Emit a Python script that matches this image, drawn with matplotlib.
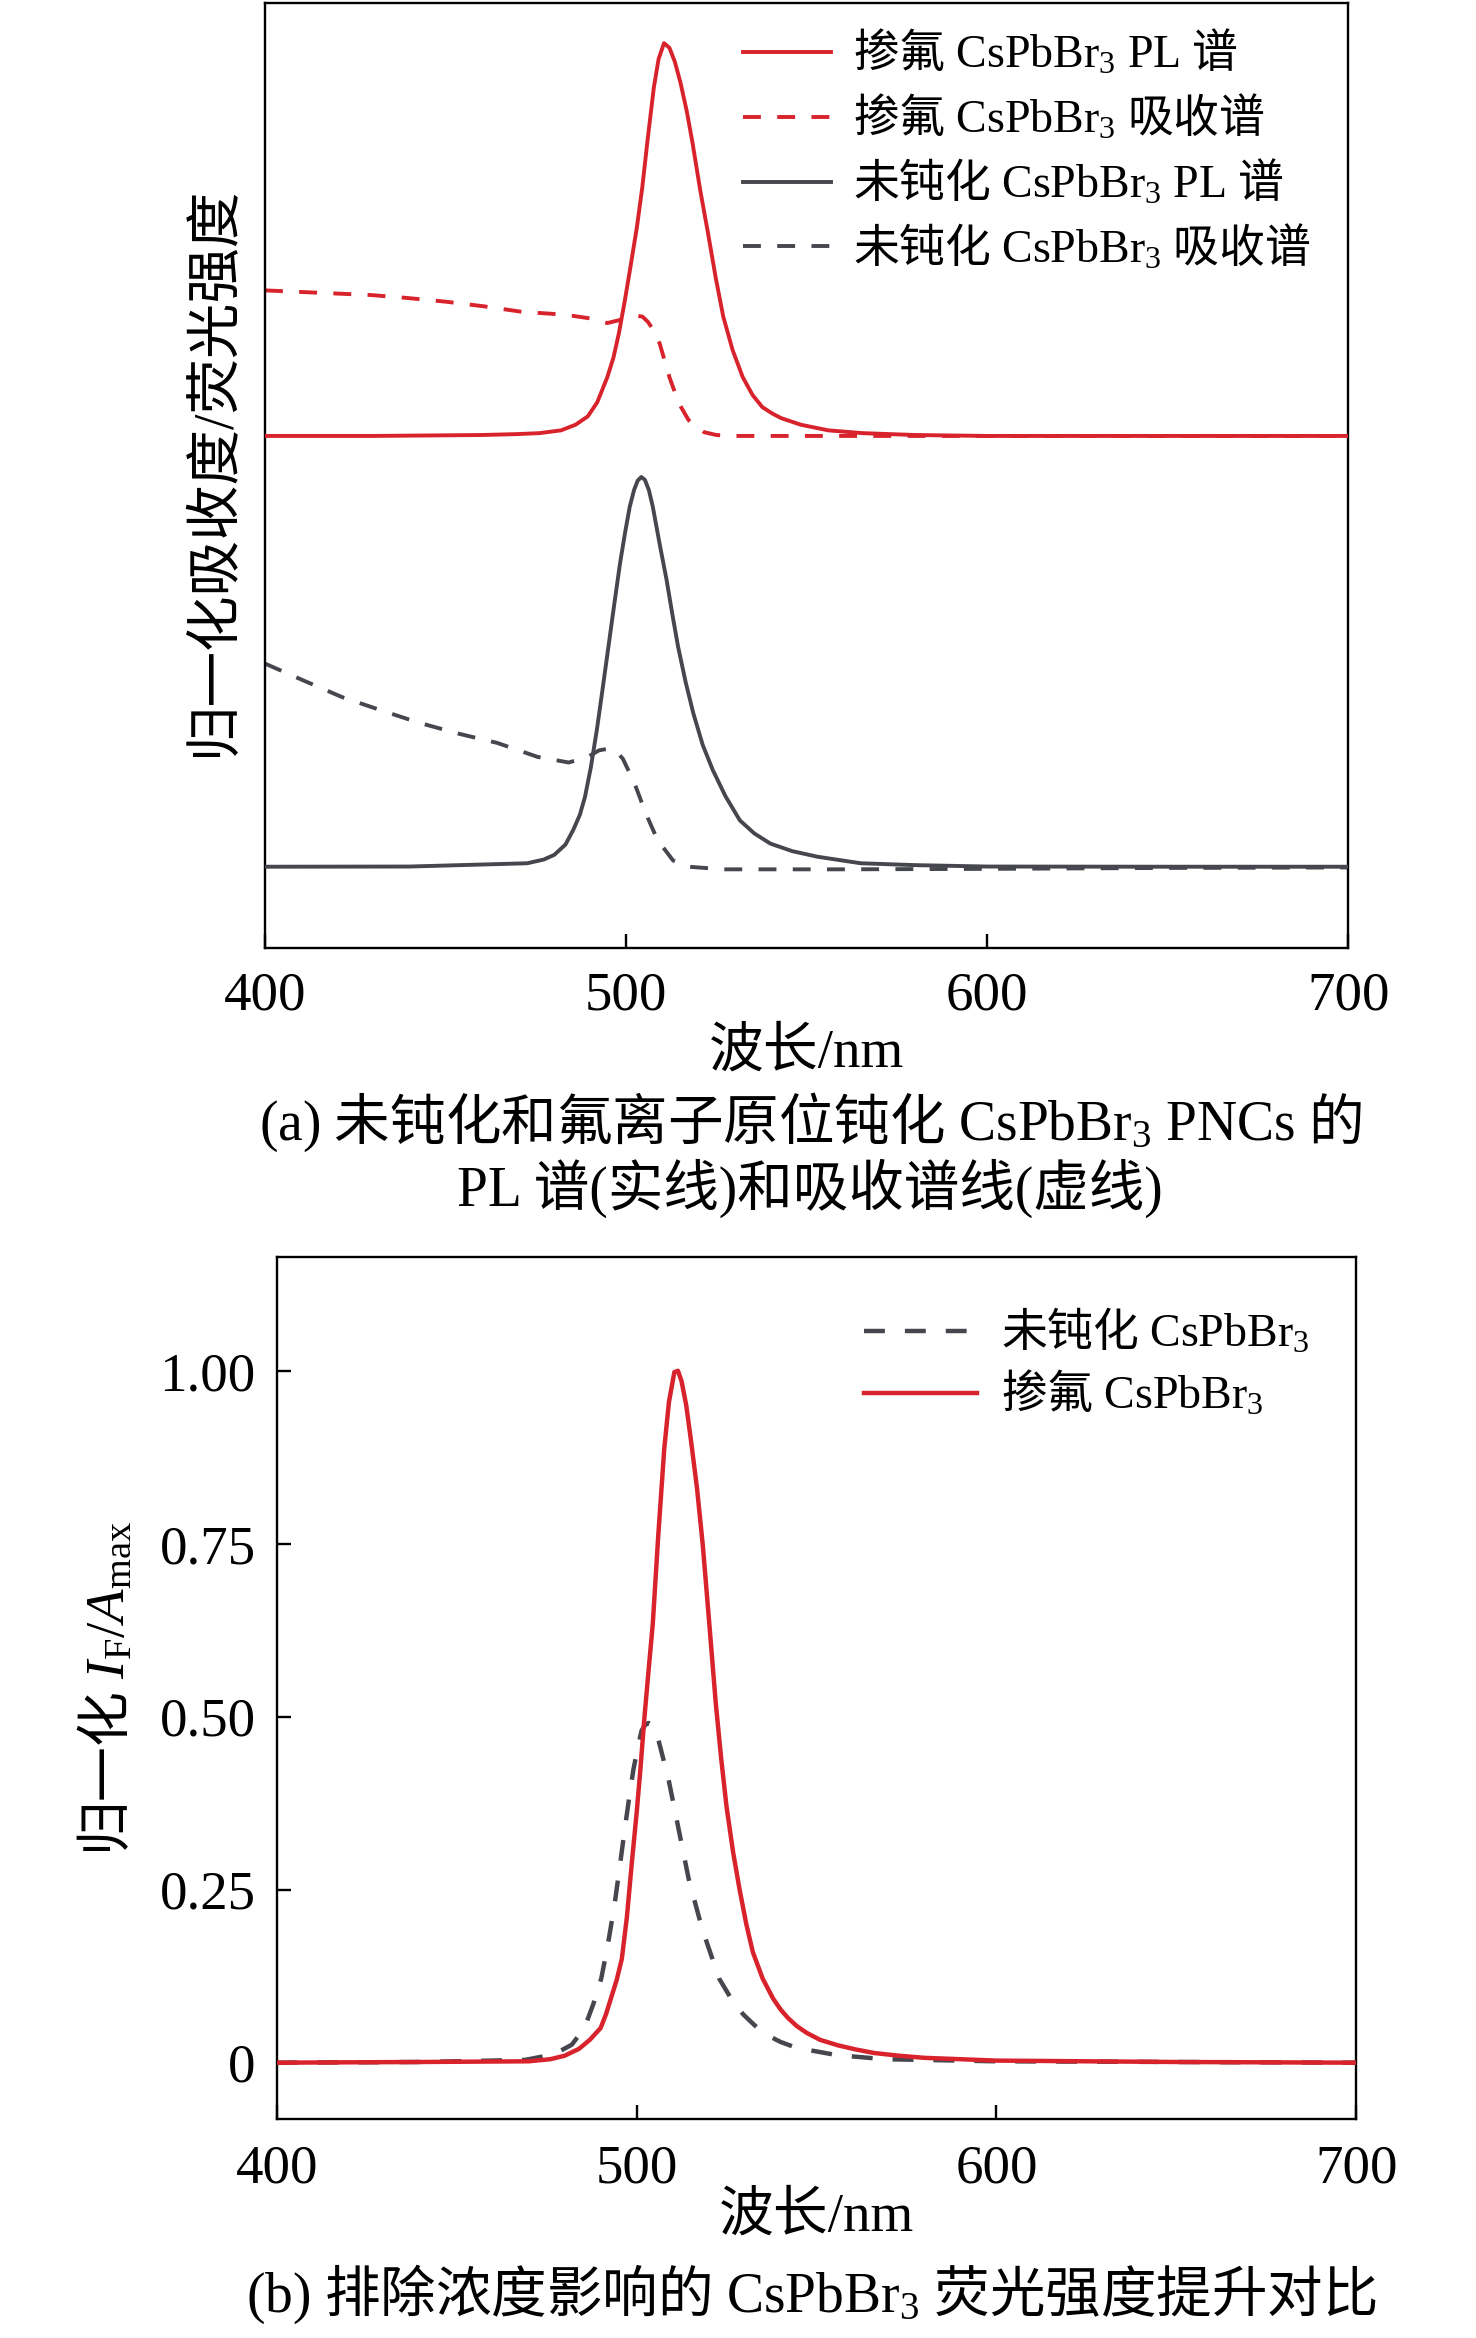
import matplotlib
matplotlib.use("Agg")
import matplotlib.pyplot as plt

plt.rcParams['font.family'] = ['Liberation Serif', 'Noto Sans CJK SC', 'DejaVu Serif']
plt.rcParams['mathtext.fontset'] = 'custom'
plt.rcParams['mathtext.rm'] = 'Liberation Serif'
plt.rcParams['mathtext.it'] = 'Liberation Serif:italic'
plt.rcParams['mathtext.sf'] = 'Noto Sans CJK SC'
plt.rcParams['axes.linewidth'] = 1.7

RED = '#d8232c'
GRAY = '#45464e'

# ---- (a) offset spectra, wavelength in nm, intensity in plot units ----
f_pl_x = [400, 430, 460, 470, 476, 482, 486, 489.4, 492, 494.8, 496.5, 498, 499.6, 501.2, 503, 504.5, 506,
          507.7, 509, 510.5, 512, 513.5, 515.1, 516.8, 518.4, 520.5, 522.7, 524.8, 526.9, 529.5, 532.3, 535,
          537.7, 540.5, 543, 548.4, 556, 565.5, 580, 600, 650, 700]
f_pl_y = [0.536, 0.536, 0.537, 0.538, 0.539, 0.542, 0.548, 0.557, 0.572, 0.599, 0.620, 0.646, 0.680, 0.717, 0.760, 0.803, 0.855,
          0.910, 0.940, 0.957, 0.952, 0.937, 0.914, 0.884, 0.850, 0.800, 0.753, 0.706, 0.664, 0.628, 0.599, 0.580,
          0.567, 0.560, 0.555, 0.548, 0.542, 0.539, 0.537, 0.536, 0.536, 0.536]

f_abs_x = [400, 417.6, 429.4, 439, 449.8, 460.5, 471.2, 483, 490, 494.8, 498, 502.3, 504.5, 506.1, 507.8,
           509.3, 512, 514.6, 517.3, 521.6, 525, 529.1, 540, 560, 600, 650, 700]
f_abs_y = [0.692, 0.689, 0.687, 0.684, 0.680, 0.675, 0.669, 0.666, 0.662, 0.657, 0.660, 0.665, 0.664, 0.658, 0.648,
           0.635, 0.599, 0.571, 0.553, 0.540, 0.537, 0.536, 0.536, 0.536, 0.536, 0.536, 0.536]

u_pl_x = [400, 440, 472.6, 477.2, 480.1, 483.2, 485.4, 487.2, 488.6, 490.2, 491.9, 493.5, 495.1, 496.7, 498.3,
          499.7, 501, 502.2, 503.2, 504.2, 505.2, 506.3, 507.4, 509.3, 511.2, 512.8, 514.4, 516.5, 518.6, 521.2,
          524, 527.5, 531.5, 535.5, 540, 546, 553, 565, 580, 600, 650, 700]
u_pl_y = [0.0743, 0.0745, 0.078, 0.082, 0.087, 0.098, 0.114, 0.130, 0.149, 0.180, 0.221, 0.265, 0.310, 0.355, 0.399,
          0.432, 0.460, 0.478, 0.488, 0.492, 0.489, 0.478, 0.460, 0.420, 0.382, 0.345, 0.310, 0.272, 0.239, 0.205,
          0.178, 0.150, 0.124, 0.110, 0.099, 0.091, 0.085, 0.078, 0.076, 0.0745, 0.0743, 0.0743]

u_abs_x = [400, 410.6, 421.4, 432.1, 442.3, 453.5, 464.3, 475.5, 484.1, 489.4, 492.5, 495.3, 497.5, 499.1,
           502.3, 505.5, 508.7, 513, 517.3, 526.9, 559, 600, 650, 700]
u_abs_y = [0.292, 0.274, 0.256, 0.242, 0.229, 0.217, 0.207, 0.192, 0.186, 0.192, 0.199, 0.201, 0.197, 0.190,
           0.164, 0.131, 0.103, 0.081, 0.0743, 0.0715, 0.0715, 0.072, 0.073, 0.0735]

# ---- (b) normalised I_F / A_max ----
b_f_x = [400, 440, 470, 476, 480, 484, 487, 490, 491.5, 493, 494.5, 495.9, 497.3, 498.7, 500, 501, 502.2, 503.3,
         504.5, 506, 507.7, 509, 510.5, 511.5, 512.5, 513.8, 515.1, 516.8, 518.4, 520.2, 522, 523.5, 525, 526.8,
         528.6, 530.5, 532.3, 535, 537.9, 540, 542, 544.5, 547.3, 551, 556, 561, 566, 573, 580, 600, 650, 700]
b_f_y = [0, 0.001, 0.002, 0.005, 0.010, 0.020, 0.033, 0.050, 0.070, 0.095, 0.120, 0.150, 0.210, 0.290, 0.360, 0.420,
         0.500, 0.565, 0.634, 0.760, 0.888, 0.955, 0.998, 1.0, 0.985, 0.950, 0.900, 0.830, 0.748, 0.635, 0.520,
         0.440, 0.370, 0.305, 0.251, 0.200, 0.160, 0.122, 0.093, 0.077, 0.065, 0.053, 0.043, 0.033, 0.025, 0.019,
         0.014, 0.010, 0.007, 0.003, 0.001, 0]

b_u_x = [400, 440, 469, 477, 482, 485.5, 488, 490.2, 492, 493.9, 495.5, 496.7, 498, 499.1, 500.3, 501.4, 502.4,
         503.3, 504.5, 506.1, 508.9, 511.7, 514.5, 518.2, 522.9, 526, 529.6, 532, 535.1, 540, 544.4, 555.6, 569,
         600, 650, 700]
b_u_y = [0, 0.001, 0.004, 0.012, 0.026, 0.050, 0.085, 0.122, 0.170, 0.229, 0.290, 0.337, 0.385, 0.423, 0.455,
         0.480, 0.488, 0.491, 0.487, 0.466, 0.409, 0.337, 0.265, 0.194, 0.122, 0.095, 0.070, 0.058, 0.043, 0.030,
         0.0215, 0.011, 0.005, 0.002, 0.001, 0]

x_ticks = [400, 500, 600, 700]
b_y_ticks = [0, 0.25, 0.50, 0.75, 1.00]
b_y_labels = ['0', '0.25', '0.50', '0.75', '1.00']

FS = 39.5
CFS = 40
LFS = 33

fig = plt.figure(figsize=(14.76, 23.38), dpi=100)

# ---------------- (a) ----------------
ax1 = fig.add_axes([0.17954, 0.59465, 0.73394, 0.40406])
lw = 2.8
ax1.plot(f_abs_x, f_abs_y, color=RED, lw=lw, dashes=(4.6, 4.2), label=r'$\mathsf{掺氟}\ \mathrm{CsPbBr_3}\ \mathsf{吸收谱}$', zorder=2)
ax1.plot(u_abs_x, u_abs_y, color=GRAY, lw=lw, dashes=(4.6, 4.2), label=r'$\mathsf{未钝化}\ \mathrm{CsPbBr_3}\ \mathsf{吸收谱}$', zorder=2)
ax1.plot(f_pl_x, f_pl_y, color=RED, lw=lw, label=r'$\mathsf{掺氟}\ \mathrm{CsPbBr_3\ PL}\ \mathsf{谱}$', zorder=3)
ax1.plot(u_pl_x, u_pl_y, color=GRAY, lw=lw, label=r'$\mathsf{未钝化}\ \mathrm{CsPbBr_3\ PL}\ \mathsf{谱}$', zorder=3)
ax1.set_xlim(400, 700)
ax1.set_ylim(-0.0125, 1.0)
ax1.set_xticks(x_ticks)
ax1.set_yticks([])
ax1.tick_params(axis='x', direction='in', length=10, width=1.7, pad=17, labelsize=FS, top=False)
ax1.set_xlabel('波长/nm', fontsize=FS, va='center')
ax1.xaxis.set_label_coords(0.5, -0.1115)
ax1.set_ylabel('归一化吸收度/荧光强度', fontsize=CFS, va='center')
ax1.yaxis.set_label_coords(-0.0465, 0.505)
h, l = ax1.get_legend_handles_labels()
order = [2, 0, 3, 1]
ax1.legend([h[i] for i in order], [l[i] for i in order], loc='upper left', bbox_to_anchor=(0.4417, 0.973),
           frameon=False, fontsize=LFS, handlelength=1.9, handletextpad=0.5, labelspacing=0.34,
           borderpad=0, borderaxespad=0)

fig.text(0.549, 0.5198, r'$\mathrm{(a)}\ \mathsf{未钝化和氟离子原位钝化}\ \mathrm{CsPbBr_3\ PNCs}\ \mathsf{的}$',
         fontsize=CFS, ha='center', va='center')
fig.text(0.549, 0.4919, 'PL 谱(实线)和吸收谱线(虚线)', fontsize=CFS, ha='center', va='center')

# ---------------- (b) ----------------
ax2 = fig.add_axes([0.18747, 0.09367, 0.73144, 0.36856])
lw2 = 3.2
ax2.plot(b_u_x, b_u_y, color=GRAY, lw=lw2, dashes=(4.7, 4.5), label=r'$\mathsf{未钝化}\ \mathrm{CsPbBr_3}$', zorder=2)
ax2.plot(b_f_x, b_f_y, color=RED, lw=lw2, label=r'$\mathsf{掺氟}\ \mathrm{CsPbBr_3}$', zorder=3)
ax2.set_xlim(400, 700)
ax2.set_ylim(-0.0814, 1.164)
ax2.set_xticks(x_ticks)
ax2.set_yticks(b_y_ticks)
ax2.set_yticklabels(b_y_labels)
ax2.tick_params(axis='x', direction='in', length=10, width=1.7, pad=18, labelsize=FS, top=False)
ax2.tick_params(axis='y', direction='in', length=10, width=1.7, pad=15, labelsize=FS, right=False)
ax2.set_xlabel('波长/nm', fontsize=FS, va='center')
ax2.xaxis.set_label_coords(0.5, -0.1137)
ax2.set_ylabel(r'$\mathsf{归一化}\ I_\mathrm{F}/A_\mathrm{max}$', fontsize=FS, va='center')
ax2.yaxis.set_label_coords(-0.1575, 0.5)
ax2.legend(loc='upper left', bbox_to_anchor=(0.544, 0.942), frameon=False, fontsize=LFS,
           handlelength=2.47, handletextpad=0.52, labelspacing=0.28, borderpad=0, borderaxespad=0)

fig.text(0.550, 0.0188, r'$\mathrm{(b)}\ \mathsf{排除浓度影响的}\ \mathrm{CsPbBr_3}\ \mathsf{荧光强度提升对比}$',
         fontsize=CFS, ha='center', va='center')

fig.savefig('out.png', dpi=100)
